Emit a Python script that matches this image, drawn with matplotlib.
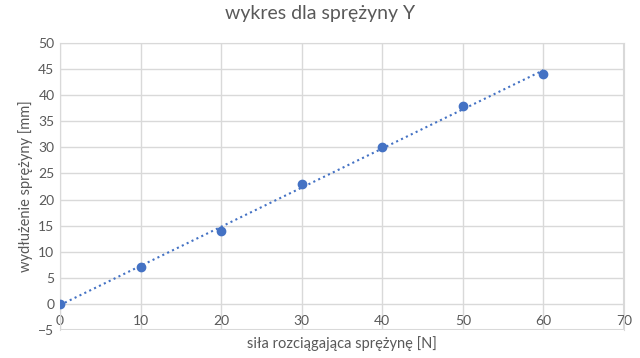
import numpy as np
import matplotlib.pyplot as plt

plt.rcParams['font.family'] = ['Lato', 'DejaVu Sans']

# dane pomiarowe
sila = [0, 10, 20, 30, 40, 50, 60]
wydluzenie = [0, 7, 14, 23, 30, 38, 44]

x_ticks = [0, 10, 20, 30, 40, 50, 60, 70]
y_ticks = [-5, 0, 5, 10, 15, 20, 25, 30, 35, 40, 45, 50]

niebieski = '#4472C4'
szary = '#595959'
siatka = '#D9D9D9'

fig = plt.figure(figsize=(6.4, 3.58), dpi=100)
ax = fig.add_axes([0.09375, 0.0782, 0.88125, 0.8017])

# linia trendu (liniowa)
a, b = np.polyfit(sila, wydluzenie, 1)
xs = np.array([min(sila), max(sila)])
ax.plot(xs, a * xs + b, color=niebieski, linestyle=(0, (1, 1.6)), linewidth=1.5, zorder=2)

ax.plot(sila, wydluzenie, 'o', color=niebieski, markersize=6, zorder=3)

ax.set_xlim(0, 70)
ax.set_ylim(-5, 50)
ax.set_xticks(x_ticks)
ax.set_yticks(y_ticks)
ax.grid(True, color=siatka, linewidth=1)
ax.set_axisbelow(True)

for s in ['top', 'left', 'right']:
    ax.spines[s].set_color(siatka)
ax.spines['bottom'].set_position(('data', 0))
ax.spines['bottom'].set_visible(False)
ax.axhline(-5, color=siatka, linewidth=1.5, zorder=0)
ax.axvline(70, color=siatka, linewidth=1.5, zorder=0)

ax.tick_params(length=0, labelsize=10, colors=szary, pad=4)
ax.tick_params(axis='x', pad=8)

ax.set_xlabel('siła rozciągająca sprężynę [N]', fontsize=10.5, color=szary)
ax.xaxis.set_label_coords(0.5, -0.02)
ax.set_ylabel('wydłużenie sprężyny [mm]', fontsize=10.5, color=szary, labelpad=4)
fig.suptitle('wykres dla sprężyny Y', fontsize=14, color=szary, y=0.985)

fig.savefig('out.png', dpi=100)
